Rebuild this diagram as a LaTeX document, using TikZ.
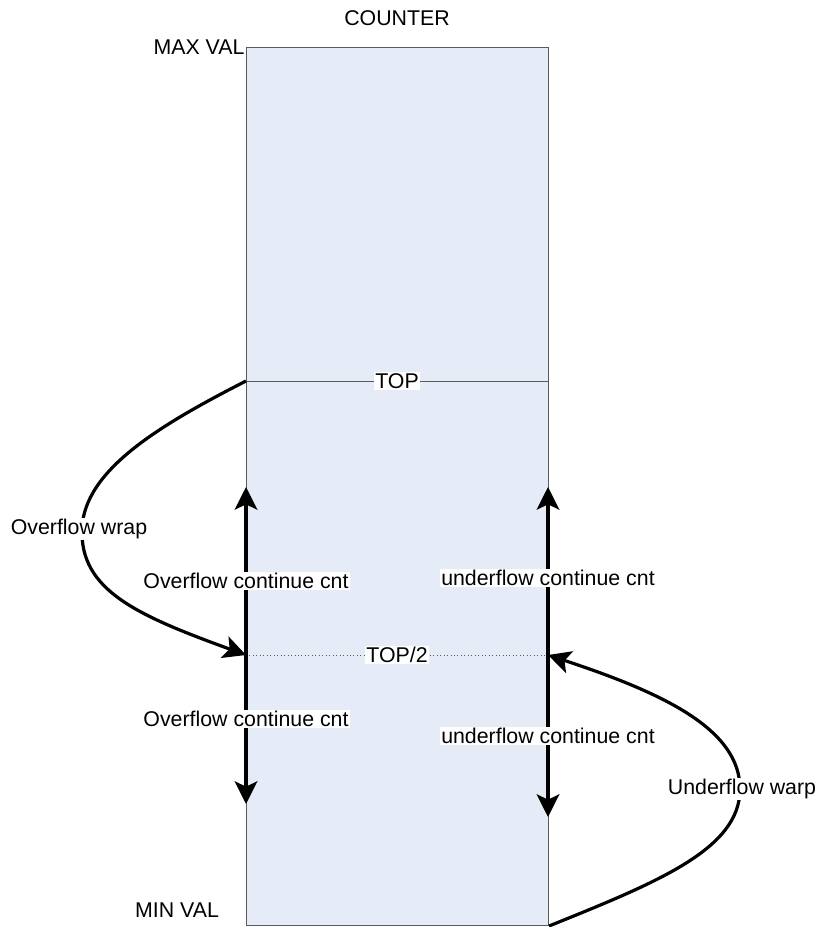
\documentclass[tikz,border=0pt]{standalone}
\usepackage{fontspec}
\setmainfont{Liberation Sans}
\usepackage{xcolor}
\usetikzlibrary{arrows.meta, positioning}

\definecolor{cntfill}{RGB}{230,236,247}
\definecolor{cntline}{RGB}{90,90,90}

\begin{document}
\begin{tikzpicture}[x=0.75pt, y=-0.75pt,
        txt/.style={font=\fontsize{16}{19}\selectfont, inner sep=1pt},
        lbl/.style={txt, fill=white},
        cnt/.style={line width=2.4pt, -{Stealth[length=17pt, width=17pt, inset=4pt]}},
        wrap/.style={line width=2.4pt, -{Stealth[length=17pt, width=17pt, inset=4pt]}}]
        \useasboundingbox (0,0) rectangle (817,927);

        \node[draw=cntline, fill=cntfill, line width=0.75pt, anchor=north west,
              minimum width=226.5pt, minimum height=658.5pt, inner sep=0pt] (counter) at (246,47) {};

        \coordinate (topL)  at (246,381);
        \coordinate (topR)  at (548,381);
        \coordinate (halfL) at (246,655);
        \coordinate (halfR) at (548,655);
        \coordinate (ovup)  at (246,487);
        \coordinate (ovdn)  at (246,804);
        \coordinate (unup)  at (548,487);
        \coordinate (undn)  at (548,817);

        \node[txt] (title) at (397,18) {COUNTER};
        \node[txt, anchor=east] (maxval) at (counter.north west) {MAX VAL};
        \node[txt] (minval) at (177,910) {MIN VAL};

        \draw[cntline, line width=0.75pt] (topL) -- node[lbl, text=black] (top) {TOP} (topR);
        \draw[cntline, line width=0.6pt, dotted] (halfL) -- node[lbl, text=black] (half) {TOP/2} (halfR);

        \path
        (halfL) edge [cnt] node[lbl, pos=0.44] (ovc1) {Overflow continue cnt} (ovup)
        (halfL) edge [cnt] node[lbl, pos=0.43] (ovc2) {Overflow continue cnt} (ovdn)
        (halfR) edge [cnt] node[lbl, pos=0.46] (unc1) {underflow continue cnt} (unup)
        (halfR) edge [cnt] node[lbl, pos=0.5] (unc2) {underflow continue cnt} (undn);

        % wrap-around curves
        \draw[wrap] (topL) .. controls (160,425) and (84,470) .. (82,529)
                 .. controls (80,590) and (136,615) .. (halfL);
        \node[lbl] (ovwrap) at (79,529) {Overflow wrap};

        \draw[wrap] (counter.south east) .. controls (658,882) and (740,849) .. (740,789)
                 .. controls (740,729) and (663,693) .. (halfR);
        \node[lbl] (unwrap) at (742,789) {Underflow warp};

    \end{tikzpicture}
\end{document}
